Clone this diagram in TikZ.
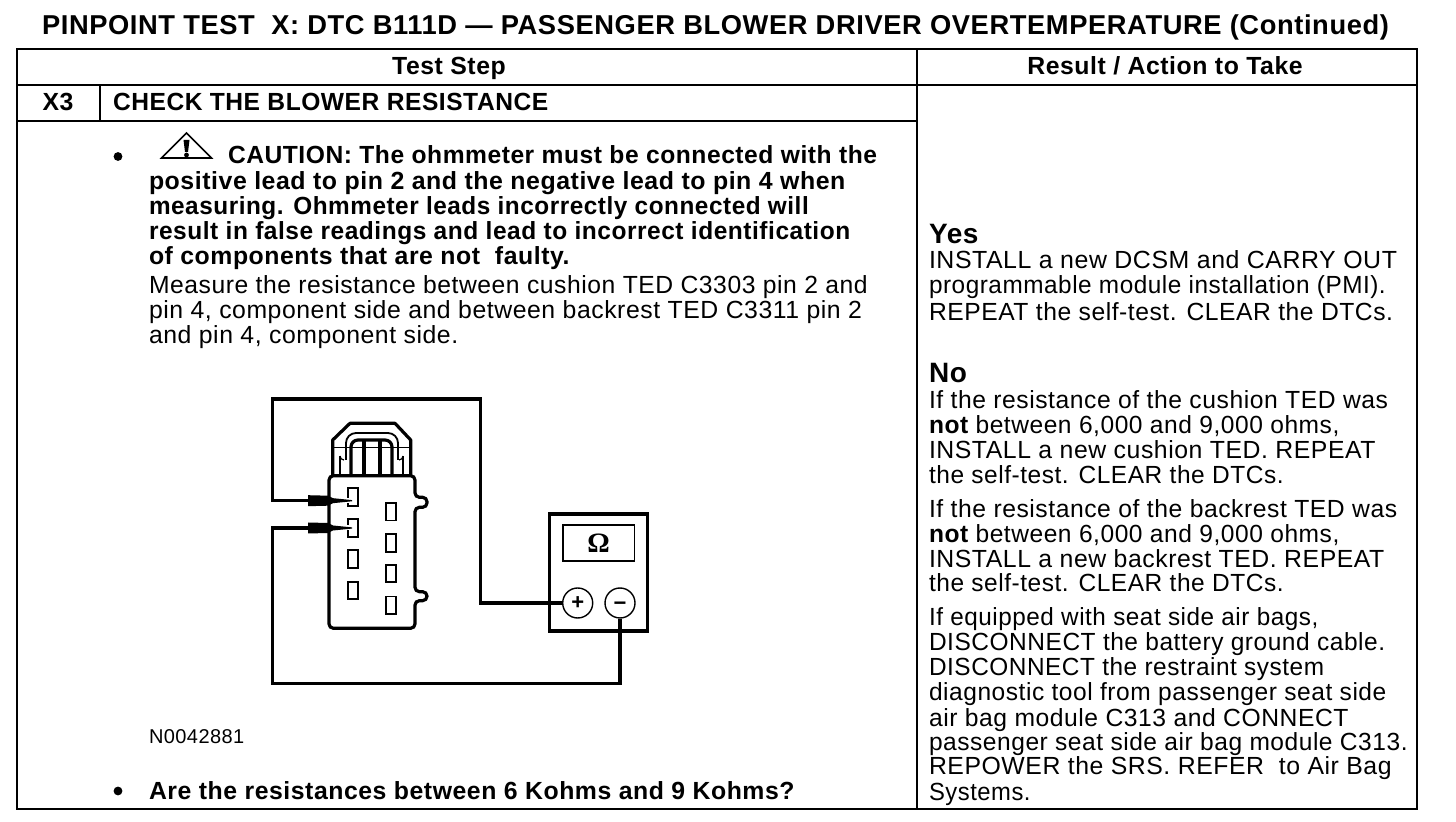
\documentclass[tikz,border=0pt]{standalone}
\usepackage{fontspec}
\usepackage{graphicx}
\setmainfont{Liberation Sans}
\newfontfamily\regf[LetterSpace=2.2]{Liberation Sans}
\newfontfamily\bldf[LetterSpace=2.2]{Liberation Sans Bold}
\newfontfamily\omegaf{Liberation Serif Bold}
\newcommand{\sx}[2]{\scalebox{#1}[1]{#2}}
\begin{document}
\begin{tikzpicture}[x=0.5pt,y=-0.5pt,
  rule/.style={line width=1pt,line cap=rect},
  txt/.style={anchor=base west,inner sep=0pt,outer sep=0pt,font=\fontsize{12.4}{14}\regf},
  bld/.style={txt,font=\fontsize{12.4}{14}\bldf},
  head/.style={bld,anchor=base},
  big/.style={txt,font=\fontsize{14}{16}\bldf},
  wire/.style={line width=1.7pt,miter limit=10},
  thick line/.style={line width=1.6pt},
  thin line/.style={line width=0.6pt},
  pin/.style={draw,line width=0.95pt,minimum width=5pt,minimum height=8.8pt,inner sep=0pt,fill=white},
  term/.style={circle,draw,line width=0.7pt,minimum size=15pt,inner sep=0pt,fill=white,font=\fontsize{11}{11}\bldf}]
\useasboundingbox (0,0) rectangle (1456,822);
\fill[white] (0,0) rectangle (1456,822);
% table
\draw[rule] (17,49) rectangle (1417,809);
\draw[rule] (17,85) -- (1417,85);
\draw[rule] (917,49) -- (917,809);
\draw[rule] (17,121) -- (917,121);
\draw[rule] (100,85) -- (100,121);
% title + headers
\node[bld,font=\fontsize{13.65}{15}\bldf] (title) at (42,35) {PINPOINT TEST\ \ X: DTC B111D — PASSENGER BLOWER DRIVER OVERTEMPERATURE (Continued)};
\node[head] (h1) at (449,75) {Test Step};
\node[head] (h2) at (1165,75) {Result / Action to Take};
\node[head] (x3) at (58,111) {X3};
\node[bld] (chk) at (113,111) {\sx{0.991}{CHECK THE BLOWER RESISTANCE}};
% left text
\fill (118,156.5) circle (2.2pt);
\coordinate (tri) at (186.5,133);
\draw[line width=0.8pt,line join=miter] (tri) -- (211.5,158) -- (161.5,158) -- cycle;
\fill (183.5,140) -- (189.5,140) -- (188,152) -- (185,152) -- cycle;
\fill (186.5,155) circle (1.2pt);
\node[bld] (c1) at (228,164) {\sx{0.992}{CAUTION: The ohmmeter must be connected with the}};
\node[bld] (c2) at (149,190) {\sx{1.003}{positive lead to pin 2 and the negative lead to pin 4 when}};
\node[bld] (c3) at (149,215) {\sx{0.981}{measuring. Ohmmeter leads incorrectly connected will}};
\node[bld] (c4) at (149,240) {\sx{0.987}{result in false readings and lead to incorrect identification}};
\node[bld] (c5) at (149,265) {of components that are not\ \ faulty.};
\node[txt] (m1) at (149,294) {\sx{0.995}{Measure the resistance between cushion TED C3303 pin 2 and}};
\node[txt] (m2) at (149,319) {pin 4, component side and between backrest TED C3311 pin 2};
\node[txt] (m3) at (149,344) {and pin 4, component side.};
\node[txt,font=\fontsize{10}{11}\regf] (fig) at (149,743) {N0042881};
\fill (118,791) circle (2.2pt);
\node[bld] (q) at (149,799) {Are the resistances between 6 Kohms and 9 Kohms?};
% right text
\node[big] (yes) at (929,244) {Yes};
\node[txt] (y1) at (929,269) {\sx{1.004}{INSTALL a new DCSM and CARRY OUT}};
\node[txt] (y2) at (929,294) {\sx{0.981}{programmable module installation (PMI).}};
\node[txt] (y3) at (929,321) {\sx{0.994}{REPEAT the self-test. CLEAR the DTCs.}};
\node[big] (no) at (929,383) {No};
\node[txt] (n1) at (929,409) {\sx{0.995}{If the resistance of the cushion TED was}};
\node[txt] (n2) at (929,434) {\sx{0.99}{{\bldf not} between 6,000 and 9,000 ohms,}};
\node[txt] (n3) at (929,459) {INSTALL a new cushion TED. REPEAT};
\node[txt] (n4) at (929,484) {\sx{0.987}{the self-test. CLEAR the DTCs.}};
\node[txt] (b1) at (929,518) {\sx{0.996}{If the resistance of the backrest TED was}};
\node[txt] (b2) at (929,543) {\sx{0.99}{{\bldf not} between 6,000 and 9,000 ohms,}};
\node[txt] (b3) at (929,568) {INSTALL a new backrest TED. REPEAT};
\node[txt] (b4) at (929,592) {\sx{0.987}{the self-test. CLEAR the DTCs.}};
\node[txt] (s1) at (929,626) {\sx{0.979}{If equipped with seat side air bags,}};
\node[txt] (s2) at (929,651) {\sx{0.987}{DISCONNECT the battery ground cable.}};
\node[txt] (s3) at (929,676) {\sx{0.983}{DISCONNECT the restraint system}};
\node[txt] (s4) at (929,701) {\sx{0.989}{diagnostic tool from passenger seat side}};
\node[txt] (s5) at (929,726) {\sx{0.995}{air bag module C313 and CONNECT}};
\node[txt] (s6) at (929,751) {\sx{0.989}{passenger seat side air bag module C313.}};
\node[txt] (s7) at (929,775) {REPOWER the SRS. REFER\ \ to Air Bag};
\node[txt] (s8) at (929,800) {\sx{0.96}{Systems.}};
% connector housing
\draw[thick line,line join=round] (332.7,475) -- (332.7,440) -- (350,423.3) -- (395,423.3) -- (410.7,440) -- (410.7,475);
\draw[thin line] (332.7,447.3) -- (410.7,447.3);
\draw[line width=0.9pt] (346,460) -- (346,443) arc[start angle=180,end angle=270,radius=10] -- (388,433) arc[start angle=270,end angle=360,radius=10] -- (398,460);
\draw[thick line] (351,475) -- (351,447) arc[start angle=180,end angle=270,radius=7] -- (385,440) arc[start angle=270,end angle=360,radius=7] -- (392,475);
\draw[thick line] (364,475) -- (364,440) (380,475) -- (380,440);
\draw[thin line] (340,475) -- (340,456) (403,475) -- (403,456);
\draw[thin line] (340,456) arc[start angle=180,end angle=90,radius=4] (403,456) arc[start angle=0,end angle=90,radius=4];
\draw[thick line,rounded corners=2.2pt] (329,500) -- (329,475.7) -- (415,475.7) -- (415,497.3) -- (427,497.3) -- (427,507.3) -- (415,507.3) -- (415,591.7) -- (427,591.7) -- (427,600.7) -- (415,600.7) -- (415,628.3) -- (329,628.3) -- cycle;
% terminals
\node[pin] (l1) at (353,497) {};
\node[pin] (l2) at (353,528) {};
\node[pin] (l3) at (353,559) {};
\node[pin] (l4) at (353,590.5) {};
\node[pin] (r1) at (391.3,511.7) {};
\node[pin] (r2) at (391.3,542.8) {};
\node[pin] (r3) at (391.3,573.5) {};
\node[pin] (r4) at (391.3,605.3) {};
% probes
\coordinate (pa) at (308,500.7);
\coordinate (pb) at (308,528);
\foreach \yy in {500.7,528}{
  \fill[white] (346,\yy-2.5) rectangle (349.5,\yy+2.5);
  \fill (308,\yy-5.5) -- (328,\yy-5) -- (333,\yy-2.5) -- (352,\yy-0.6) -- (352,\yy+0.6) -- (333,\yy+2.5) -- (328,\yy+5) -- (308,\yy+5.5) -- cycle;
}
% meter
\node[draw,line width=1.6pt,minimum width=49pt,minimum height=58.5pt,inner sep=0pt] (meter) at (598.5,572.5) {};
\node[draw,line width=0.8pt,minimum width=35.8pt,minimum height=18pt,inner sep=0pt,font=\fontsize{14}{14}\omegaf] (disp) at (598.5,543) {Ω};
\node[term] (plus) at (577.7,603) {+};
\node[term] (minus) at (620,603) {\smash{\raisebox{-3.6pt}{−}}};
% wires
\draw[wire] (pa) -| (272.7,399) -| (480.7,603) -- (plus);
\coordinate (w1) at (272.7,683.3);
\draw[wire] (pb) -- (272.7,528) -- (w1) -| (minus);
\end{tikzpicture}
\end{document}
